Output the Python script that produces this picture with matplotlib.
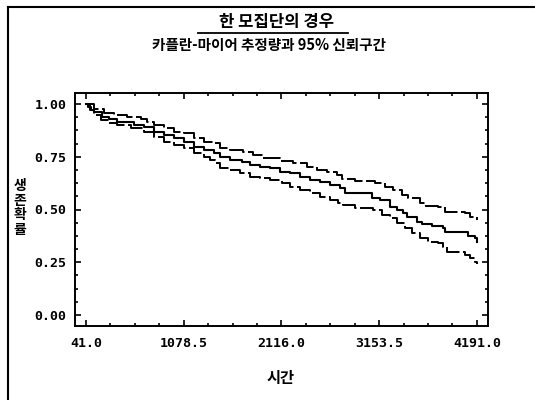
import matplotlib
matplotlib.use("Agg")
import matplotlib.pyplot as plt
from matplotlib.lines import Line2D
from matplotlib.ticker import FixedLocator, AutoMinorLocator

plt.rcParams['font.family'] = ['Noto Sans CJK KR', 'DejaVu Sans']

# Kaplan-Meier estimate (step points: time, survival)
time_km = [41, 62, 94, 126, 214, 285, 373, 550, 657, 763, 869, 975, 1081, 1187, 1293,
           1400, 1463, 1569, 1694, 1782, 1888, 1994, 2100, 2206, 2312, 2419, 2525, 2631,
           2737, 2790, 3073, 3161, 3268, 3339, 3409, 3445, 3551, 3604, 3710, 3833, 3851,
           4099, 4170, 4191]
surv_km = [1.0, 0.985, 0.972, 0.964, 0.94, 0.927, 0.916, 0.90, 0.892, 0.869, 0.853, 0.837,
           0.821, 0.798, 0.782, 0.766, 0.750, 0.735, 0.727, 0.711, 0.703, 0.695, 0.679,
           0.672, 0.656, 0.640, 0.632, 0.616, 0.600, 0.577, 0.556, 0.545, 0.513, 0.498,
           0.482, 0.466, 0.442, 0.430, 0.423, 0.414, 0.395, 0.374, 0.366, 0.347]

# upper 95% limit
time_up = [41, 126, 232, 338, 479, 622, 692, 763, 869, 975, 1081, 1187, 1293, 1400, 1463,
           1569, 1711, 1817, 1923, 2047, 2100, 2241, 2384, 2490, 2596, 2702, 2755, 2896,
           3108, 3214, 3303, 3392, 3462, 3586, 3639, 3780, 3851, 4064, 4117, 4191]
surv_up = [1.0, 0.975, 0.956, 0.948, 0.937, 0.927, 0.916, 0.90, 0.885, 0.869, 0.861, 0.837,
           0.821, 0.814, 0.793, 0.782, 0.774, 0.758, 0.746, 0.742, 0.730, 0.719, 0.703,
           0.687, 0.679, 0.664, 0.645, 0.635, 0.624, 0.608, 0.592, 0.569, 0.553, 0.529,
           0.518, 0.513, 0.490, 0.482, 0.466, 0.450]

# lower 95% limit
time_lo = [41, 83, 126, 197, 285, 373, 515, 657, 763, 869, 975, 1081, 1187, 1293, 1357,
           1410, 1463, 1569, 1675, 1782, 1888, 1994, 2118, 2206, 2312, 2419, 2525, 2631,
           2719, 2772, 2896, 3090, 3179, 3268, 3339, 3427, 3498, 3586, 3674, 3780, 3833,
           3869, 4064, 4117, 4170, 4191]
surv_lo = [1.0, 0.97, 0.948, 0.924, 0.911, 0.90, 0.885, 0.869, 0.845, 0.821, 0.806, 0.790,
           0.766, 0.750, 0.735, 0.719, 0.695, 0.687, 0.672, 0.656, 0.648, 0.640, 0.624,
           0.608, 0.592, 0.577, 0.561, 0.545, 0.529, 0.521, 0.505, 0.498, 0.474, 0.458,
           0.434, 0.411, 0.387, 0.363, 0.347, 0.340, 0.324, 0.300, 0.284, 0.268, 0.253,
           0.240]

x_ticks = [41.0, 1078.5, 2116.0, 3153.5, 4191.0]
x_ticklabels = ['41.0', '1078.5', '2116.0', '3153.5', '4191.0']
y_ticks = [0.0, 0.25, 0.5, 0.75, 1.0]
y_ticklabels = ['0.00', '0.25', '0.50', '0.75', '1.00']

title1 = '한 모집단의 경우'
title2 = '카플란-마이어 추정량과 95% 신뢰구간'
xlabel = '시간'
ylabel = '생존확률'

fig = plt.figure(figsize=(5.35, 4.0), dpi=100)
ax = fig.add_axes([0.140, 0.185, 0.772, 0.5825])

ax.step(time_km, surv_km, where='post', color='black', lw=1.5)
ax.step(time_up, surv_up, where='post', color='black', lw=1.4, linestyle=(0, (9, 1.8)))
ax.step(time_lo, surv_lo, where='post', color='black', lw=1.4, linestyle=(0, (9, 1.8)))

ax.set_xlim(-76, 4308)
ax.set_ylim(-0.052, 1.052)

ax.xaxis.set_major_locator(FixedLocator(x_ticks))
ax.yaxis.set_major_locator(FixedLocator(y_ticks))
ax.xaxis.set_minor_locator(AutoMinorLocator(4))
ax.yaxis.set_minor_locator(AutoMinorLocator(4))
ax.set_xticklabels(x_ticklabels)
ax.set_yticklabels(y_ticklabels)

# blocky bold numbers on the ticks
for lab in ax.get_xticklabels() + ax.get_yticklabels():
    lab.set_fontfamily('DejaVu Sans Mono')
    lab.set_fontweight('bold')
    lab.set_fontsize(9.5)

ax.tick_params(which='both', direction='in', top=True, right=True, width=1.2)
ax.tick_params(which='major', length=4)
ax.tick_params(which='minor', length=2.5)
ax.tick_params(axis='x', pad=8)
ax.tick_params(axis='y', pad=6)
for sp in ax.spines.values():
    sp.set_linewidth(1.4)

# titles
fig.text(0.517, 0.945, title1, ha='center', va='center', fontsize=12, fontweight='bold')
fig.add_artist(Line2D([0.370, 0.650], [0.917, 0.917], color='black', lw=1.3))
fig.text(0.503, 0.887, title2, ha='center', va='center', fontsize=10.5, fontweight='bold')

# axis labels
fig.text(0.524, 0.055, xlabel, ha='center', va='center', fontsize=11, fontweight='bold')
fig.text(0.037, 0.48, '\n'.join(ylabel), ha='center', va='center', fontsize=10,
         fontweight='bold', linespacing=1.05)

# outer frame (left and top edges)
fig.add_artist(Line2D([0.015, 0.015], [0.0, 0.983], color='black', lw=1.5))
fig.add_artist(Line2D([0.015, 1.0], [0.983, 0.983], color='black', lw=1.5))

plt.savefig('out.png', dpi=100)
plt.close()
